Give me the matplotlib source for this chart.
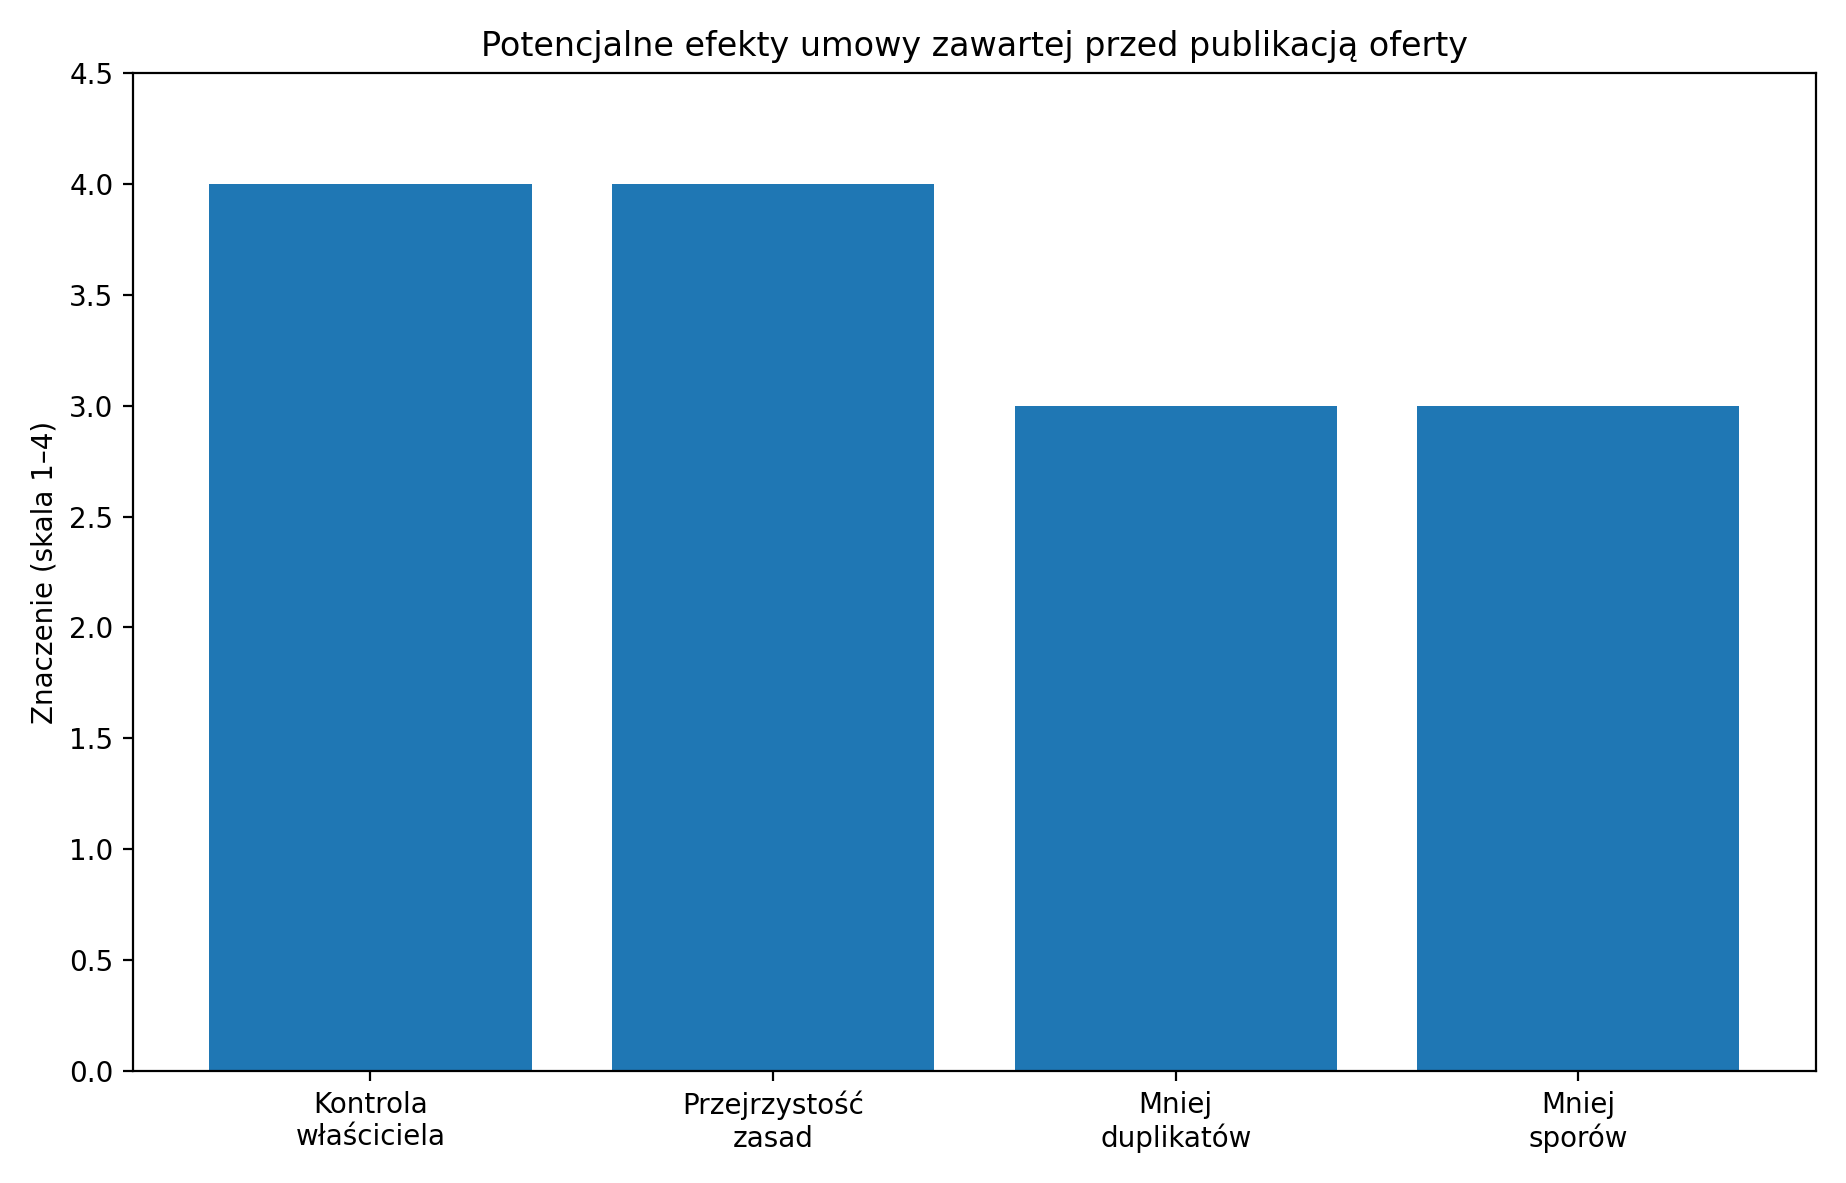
import matplotlib
matplotlib.use("Agg")
import matplotlib.pyplot as plt

categories = ["Kontrola\nwłaściciela", "Przejrzystość\nzasad", "Mniej\nduplikatów", "Mniej\nsporów"]
values = [4, 4, 3, 3]

fig, ax = plt.subplots(figsize=(9.23, 5.915), dpi=200)
ax.bar(categories, values, color="#1f77b4")
ax.set_ylim(0, 4.5)
ax.set_ylabel("Znaczenie (skala 1–4)")
ax.set_title("Potencjalne efekty umowy zawartej przed publikacją oferty")
fig.tight_layout()
fig.savefig("out.png")
